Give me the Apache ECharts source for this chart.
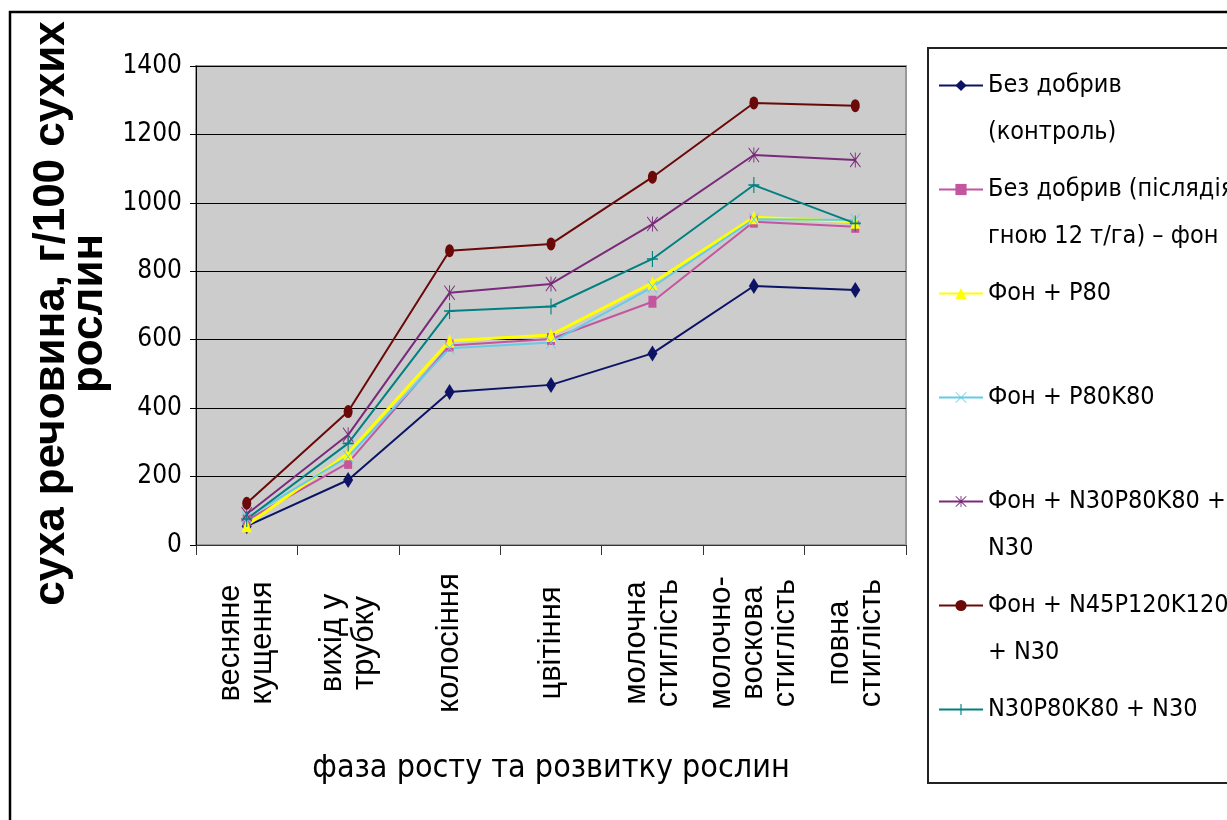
<!DOCTYPE html>
<html>
<head>
<meta charset="utf-8">
<title>суха речовина</title>
<script src="https://cdn.jsdelivr.net/npm/echarts@6/dist/echarts.min.js"></script>
<style>
  html, body { margin: 0; padding: 0; background: #fff; }
  #chart { width: 1227px; height: 820px; }
</style>
</head>
<body>
<div id="chart"></div>
<script type="text/javascript">
// фази росту
var phases = ['весняне\nкущення', 'вихід у\nтрубку', 'колосіння', 'цвітіння',
              'молочна\nстиглість', 'молочно-\nвоскова\nстиглість', 'повна\nстиглість'];
var yTicks = [0, 200, 400, 600, 800, 1000, 1200, 1400];

// суха речовина, г/100 рослин
var control     = [55, 190, 447, 468, 560, 757, 745];
var fon         = [72, 240, 583, 602, 711, 945, 930];
var fonP80      = [58, 268, 597, 614, 766, 958, 945];
var fonP80K80   = [80, 258, 575, 592, 754, 952, 950];
var fonNPK      = [90, 322, 737, 763, 938, 1140, 1125];
var fonN45      = [122, 390, 860, 880, 1075, 1292, 1284];
var npk         = [76, 297, 684, 697, 836, 1052, 940];

var names = ['Без добрив (контроль)', 'Без добрив (післядія гною 12 т/га) – фон', 'Фон + P80',
             'Фон + P80K80', 'Фон + N30P80K80 + N30', 'Фон + N45P120K120 + N30', 'N30P80K80 + N30'];
// як підписи розбиті у легенді
var legendLines = {
    'Без добрив (контроль)': ['Без добрив', '(контроль)'],
    'Без добрив (післядія гною 12 т/га) – фон': ['Без добрив (післядія', 'гною 12 т/га) – фон'],
    'Фон + P80': ['Фон + P80', ' '],
    'Фон + P80K80': ['Фон + P80K80', ' '],
    'Фон + N30P80K80 + N30': ['Фон + N30P80K80 +', 'N30'],
    'Фон + N45P120K120 + N30': ['Фон + N45P120K120', '+ N30'],
    'N30P80K80 + N30': ['N30P80K80 + N30', ' ']
};

var narrow = "'Liberation Sans Narrow','Arial Narrow','DejaVu Sans Condensed',sans-serif";
var arial = "'Liberation Sans',Arial,sans-serif";

var plusPath = 'path://M-1,-10L1,-10L1,-1L10,-1L10,1L1,1L1,10L-1,10L-1,1L-10,1L-10,-1L-1,-1Z';
var xPath = 'path://M-10,-9L-9,-10L0,-1L9,-10L10,-9L1,0L10,9L9,10L0,1L-9,10L-10,9L-1,0Z';
var starPath = 'path://M-10,-9L-9,-10L-0.8,-2.2L-0.8,-10L0.8,-10L0.8,-2.2L9,-10L10,-9L1.2,0L10,9L9,10L0.8,2.2L0.8,10L-0.8,10L-0.8,2.2L-9,10L-10,9L-1.2,0Z';

function line(name, data, color, symbol, size, width) {
    return {
        name: name,
        type: 'line',
        data: data,
        symbol: symbol,
        symbolSize: size,
        color: color,
        lineStyle: { color: color, width: width || 2 },
        itemStyle: { color: color },
        emphasis: { disabled: true },
        animation: false
    };
}

var myChart = echarts.init(document.getElementById('chart'), null, { renderer: 'canvas' });

var option = {
    backgroundColor: '#ffffff',
    animation: false,
    grid: {
        left: 196, right: 321, top: 66, bottom: 275,
        outerBoundsMode: 'none',
        containLabel: false,
        show: true,
        backgroundColor: '#cccccc',
        borderColor: '#999999',
        borderWidth: 2
    },
    legend: {
        orient: 'vertical',
        left: 938,
        top: 15,
        padding: 0,
        itemGap: -37,
        itemWidth: 44,
        itemHeight: 14,
        selectedMode: false,
        data: names,
        formatter: function (n) {
            return ' \n' + legendLines[n][0] + '\n' + legendLines[n][1];
        },
        textStyle: {
            fontFamily: narrow,
            fontSize: 25,
            lineHeight: 47,
            color: '#000'
        }
    },
    xAxis: {
        type: 'category',
        data: phases,
        boundaryGap: true,
        name: 'фаза росту та розвитку рослин',
        nameLocation: 'middle',
        nameGap: 208,
        nameTextStyle: { fontFamily: narrow, fontSize: 32, color: '#000' },
        axisLine: { lineStyle: { color: '#333', width: 1 } },
        axisTick: { show: true, length: 10, lineStyle: { color: '#333' } },
        axisLabel: {
            interval: 0,
            rotate: 90,
            align: 'center',
            verticalAlign: 'middle',
            margin: 98,
            fontFamily: arial,
            fontSize: 31,
            lineHeight: 32,
            color: '#000'
        },
        splitLine: { show: false }
    },
    yAxis: {
        type: 'value',
        min: yTicks[0],
        max: yTicks[yTicks.length - 1],
        interval: 200,
        name: 'суха речовина, г/100 сухих\nрослин',
        nameLocation: 'middle',
        nameGap: 76,
        nameTextStyle: {
            fontFamily: arial, fontWeight: 'bold', fontSize: 44, lineHeight: 38, color: '#000',
            padding: [0, 16, 0, 0]
        },
        axisLine: { show: true, lineStyle: { color: '#000', width: 1 } },
        axisTick: { show: true, length: 6, lineStyle: { color: '#000' } },
        axisLabel: {
            fontFamily: narrow, fontSize: 26, color: '#000', margin: 14,
            formatter: function (v) { return String(v); }
        },
        splitLine: { show: true, lineStyle: { color: '#000', width: 1 } }
    },
    graphic: [
        {
            type: 'polyline',
            silent: true,
            shape: { points: [[10, 820], [10, 12], [1227, 12]] },
            style: { stroke: '#000', lineWidth: 2.5, fill: null }
        },
        {
            type: 'rect',
            silent: true,
            shape: { x: 928, y: 48, width: 320, height: 735 },
            style: { stroke: '#222', lineWidth: 2, fill: null }
        }
    ],
    series: [
        line(names[0], control, '#0d1466', 'diamond', [10, 16]),
        line(names[1], fon, '#c4559f', 'rect', [8, 12]),
        line(names[2], fonP80, '#ffff00', 'triangle', [10, 14], 3),
        line(names[3], fonP80K80, '#66cce6', xPath, [10, 13]),
        line(names[4], fonNPK, '#7a2a7a', starPath, [11, 15]),
        line(names[5], fonN45, '#6b0808', 'circle', [9, 13]),
        line(names[6], npk, '#008080', plusPath, [11, 16])
    ]
};

myChart.setOption(option);
</script>
</body>
</html>
